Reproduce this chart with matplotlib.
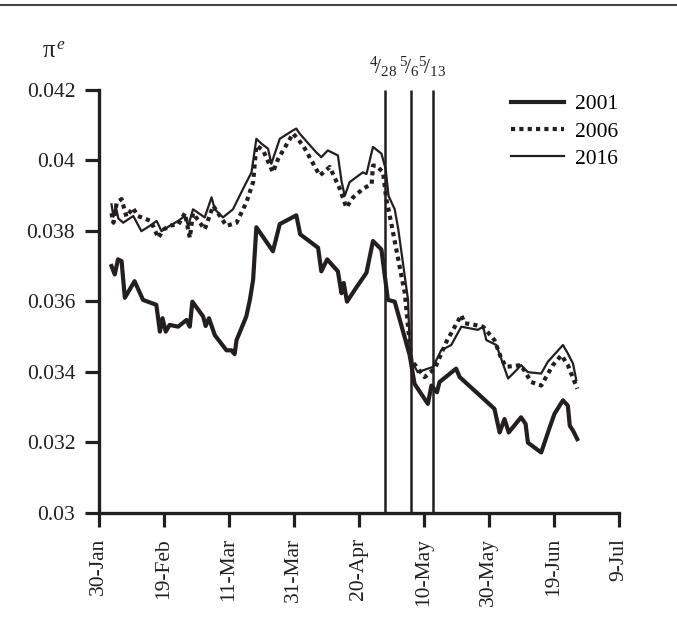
import matplotlib
matplotlib.use("Agg")
import matplotlib.pyplot as plt
from matplotlib.lines import Line2D
import numpy as np

plt.rcParams['font.family'] = ['Liberation Serif', 'DejaVu Serif']
plt.rcParams['mathtext.fontset'] = 'custom'
plt.rcParams['mathtext.rm'] = 'Liberation Serif'
plt.rcParams['mathtext.it'] = 'Liberation Serif:italic'

# days counted from 30-Jan
tick_days = [0, 20, 40, 60, 80, 100, 120, 140, 160]
tick_labels = ['30-Jan', '19-Feb', '11-Mar', '31-Mar', '20-Apr', '10-May', '30-May', '19-Jun', '9-Jul']

event_days = [88, 96, 103]
event_labels = [r'$^{4}\!/_{28}$', r'$^{5}\!/_{6}$', r'$^{5}\!/_{13}$']

d2001 = [3.9, 4.9, 5.9, 7.0, 8.0, 11.0, 13.6, 17.7, 18.8, 19.6, 20.6, 21.8, 24.4, 27.0, 28.0, 28.8,
         32.1, 32.9, 33.9, 35.7, 39.3, 40.8, 41.8, 42.4, 45.4, 46.5, 47.5, 48.5, 53.6, 55.7, 60.8,
         62.0, 67.5, 68.5, 70.3, 73.6, 74.7, 75.4, 76.4, 79.2, 82.4, 84.4, 87.0, 89.0, 91.1, 95.7,
         97.2, 101.3, 102.4, 104.1, 104.9, 110.0, 111.1, 116.7, 121.8, 123.4, 124.9, 126.2, 130.0,
         131.4, 132.1, 136.2, 138.8, 140.3, 142.9, 144.4, 145.0, 146.0, 147.3]
v2001 = [0.0370, 0.03676, 0.03719, 0.03714, 0.0361, 0.03657, 0.03604, 0.0359, 0.03514, 0.03552,
         0.03514, 0.03533, 0.03528, 0.03547, 0.03528, 0.03599, 0.03557, 0.0353, 0.03552, 0.03504,
         0.03461, 0.03461, 0.0345, 0.0349, 0.03557, 0.03604, 0.03661, 0.0381, 0.03742, 0.03819,
         0.03844, 0.0379, 0.03752, 0.03685, 0.03719, 0.03685, 0.03623, 0.03652, 0.03599, 0.03638,
         0.03681, 0.03771, 0.03747, 0.03604, 0.03599, 0.03447, 0.03366, 0.03309, 0.03361, 0.03342,
         0.03371, 0.03409, 0.03385, 0.03338, 0.03295, 0.03228, 0.03266, 0.03228, 0.03271, 0.03252,
         0.03199, 0.03171, 0.03242, 0.03281, 0.03319, 0.03304, 0.03247, 0.03233, 0.03209]

d2006 = [3.9, 4.5, 5.5, 7.0, 8.5, 10.5, 12.0, 14.0, 16.0, 18.3, 20.0, 22.0, 24.5, 26.5, 28.0, 29.0,
         32.6, 35.2, 39.3, 42.4, 45.4, 47.5, 48.5, 50.6, 53.6, 55.2, 59.8, 62.9, 68.0, 71.1, 74.2,
         76.2, 78.3, 81.3, 84.0, 84.4, 85.4, 87.5, 88.5, 90.0, 94.2, 96.2, 100.3, 103.4, 107.0,
         111.6, 112.6, 115.7, 118.3, 121.8, 123.9, 125.4, 130.0, 133.1, 136.2, 139.8, 142.4, 144.4,
         147.3]
v2006 = [0.0385, 0.03823, 0.0388, 0.0389, 0.0384, 0.03865, 0.03842, 0.03835, 0.03828, 0.0378,
         0.03804, 0.03815, 0.03818, 0.0385, 0.0378, 0.0385, 0.03804, 0.03871, 0.03814, 0.03823,
         0.0388, 0.03938, 0.04042, 0.04028, 0.03966, 0.04004, 0.04076, 0.04042, 0.03957, 0.03981,
         0.03919, 0.03866, 0.03895, 0.03919, 0.03933, 0.03985, 0.03985, 0.03966, 0.0389, 0.03823,
         0.03623, 0.03433, 0.03385, 0.03409, 0.03485, 0.03561, 0.03538, 0.03533, 0.03528, 0.0349,
         0.03438, 0.03414, 0.03419, 0.03371, 0.03361, 0.03419, 0.03447, 0.03419, 0.03352]

d2016 = [3.9, 4.5, 5.2, 6.0, 7.5, 10.6, 13.1, 15.7, 17.8, 19.3, 21.8, 24.4, 26.5, 27.5, 29.0, 32.6,
         34.7, 35.7, 38.2, 41.3, 44.4, 47.0, 48.5, 50.1, 52.1, 53.1, 55.7, 59.8, 60.8, 61.8, 66.9,
         68.5, 70.5, 73.6, 74.7, 75.7, 77.2, 81.3, 82.4, 84.4, 87.0, 88.3, 89.2, 91.1, 92.2, 95.2,
         95.7, 96.7, 98.2, 102.9, 105.4, 108.5, 111.6, 116.7, 118.3, 119.3, 122.4, 126.0, 128.5,
         130.0, 132.1, 136.2, 138.2, 142.9, 144.4, 146.0, 147.0]
v2016 = [0.03875, 0.0384, 0.0387, 0.03835, 0.03823, 0.03842, 0.03799, 0.03814, 0.03828, 0.03799,
         0.03814, 0.03828, 0.03842, 0.03814, 0.03861, 0.03838, 0.03895, 0.03861, 0.03838, 0.03861,
         0.03919, 0.03966, 0.04061, 0.04047, 0.04033, 0.0399, 0.04061, 0.04085, 0.0409, 0.04076,
         0.04023, 0.04009, 0.04028, 0.04014, 0.03942, 0.03899, 0.03938, 0.03966, 0.03961, 0.04038,
         0.04019, 0.03976, 0.03899, 0.03861, 0.03804, 0.03604, 0.03471, 0.03423, 0.03399, 0.03414,
         0.03461, 0.03476, 0.03528, 0.03519, 0.03528, 0.0349, 0.03476, 0.03381, 0.03404, 0.03419,
         0.03399, 0.03395, 0.03428, 0.03476, 0.03452, 0.03423, 0.03376]

ink = '#231f20'

fig = plt.figure(figsize=(6.77, 6.37), dpi=100)
ax = fig.add_axes([0.146, 0.195, 0.7676, 0.664])

ax.plot(d2001, v2001, color=ink, lw=3.0, label='2001')
ax.plot(d2006, v2006, color=ink, lw=3.0, linestyle=(0, (1, 1)), label='2006')
ax.plot(d2016, v2016, color=ink, lw=1.6, label='2016')

ax.vlines(event_days, 0.03, 0.042, color=ink, lw=1.8)
for d, lab in zip(event_days, event_labels):
    ax.text(d - 0.4, 0.0423, lab, ha='center', va='bottom', fontsize=15.5, color=ink)

ax.set_xlim(0, 160)
ax.set_ylim(0.03, 0.042)
ax.set_xticks(tick_days)
ax.set_xticklabels(tick_labels, rotation=90)
ax.set_yticks([0.03, 0.032, 0.034, 0.036, 0.038, 0.04, 0.042])
ax.set_yticklabels(['0.03', '0.032', '0.034', '0.036', '0.038', '0.04', '0.042'])
ax.tick_params(direction='out', length=10, width=2.3, labelsize=15.5, colors=ink)
ax.tick_params(axis='y', pad=7)
ax.tick_params(axis='x', pad=8)
for s in ['top', 'right']:
    ax.spines[s].set_visible(False)
for s in ['left', 'bottom']:
    ax.spines[s].set_linewidth(2.4)
    ax.spines[s].set_color(ink)

fig.text(0.08, 0.918, r'$\mathrm{π}^{\,e}$', fontsize=18, ha='center', va='center', color=ink)

leg = fig.legend(loc='upper left', bbox_to_anchor=(0.755, 0.852), frameon=False, fontsize=15.5,
                 handlelength=2.45, labelspacing=0.33, handletextpad=0.5,
                 borderpad=0, borderaxespad=0)

fig.add_artist(Line2D([0, 1], [0.992, 0.992], color='#444444', lw=1.5))

fig.savefig('out.png', dpi=100)
